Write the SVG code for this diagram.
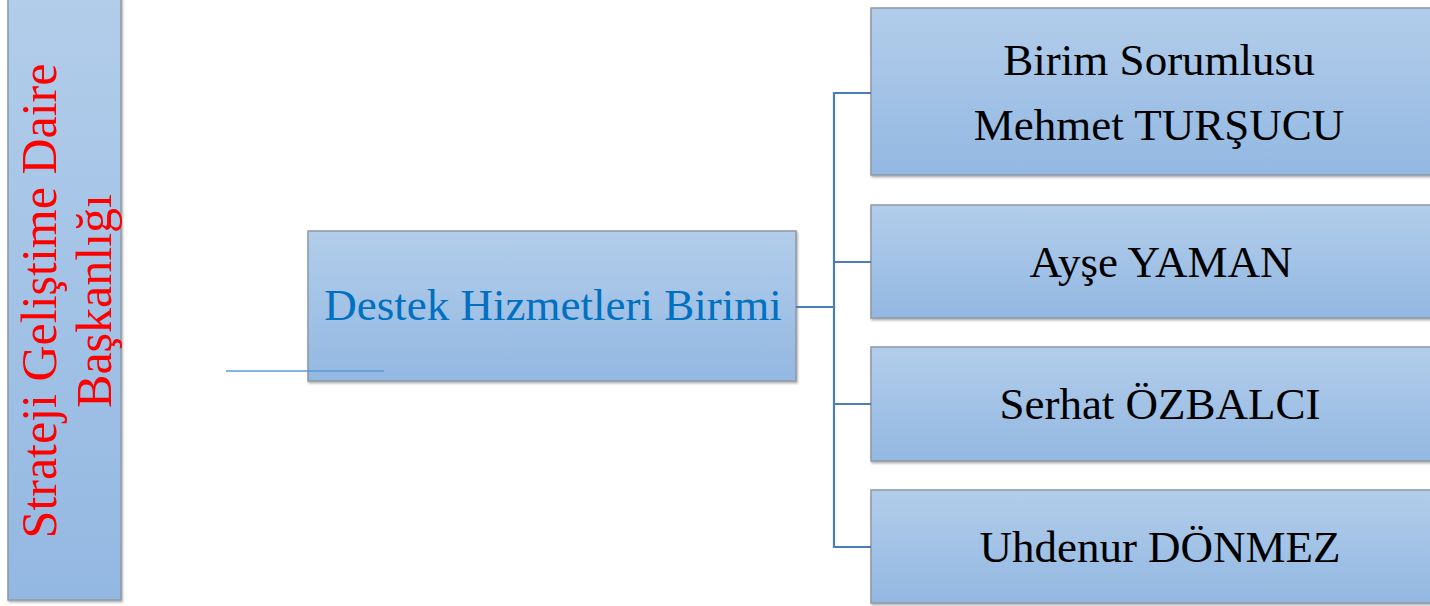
<svg xmlns="http://www.w3.org/2000/svg" width="1430" height="606" viewBox="0 0 1430 606">
<defs>
<linearGradient id="g" x1="0" y1="0" x2="0" y2="1">
<stop offset="0" stop-color="#b2cdea"/>
<stop offset="1" stop-color="#93b8e2"/>
</linearGradient>
<filter id="sh" x="-5%" y="-5%" width="110%" height="110%">
<feDropShadow dx="1" dy="1.5" stdDeviation="1" flood-color="#000" flood-opacity="0.35"/>
</filter>
</defs>
<style>
.box{fill:url(#g);stroke:#8e98a5;stroke-width:1.5;filter:url(#sh)}
.t{font-family:"Liberation Serif","Times New Roman",serif;font-size:45px;fill:#000;text-anchor:middle}
.blue{fill:#0070c0}
.red{fill:#ff0000;font-size:50px}
.c{fill:none;stroke:#4a7ebb;stroke-width:2.2}
</style>
<rect width="1430" height="606" fill="#fff"/>
<g id="node-strateji">
<rect class="box" x="8" y="-2" width="113" height="602"/>
<text class="t red" transform="translate(56,301) rotate(-90)">Strateji Geliştime Daire</text>
<text class="t red" transform="translate(111,301) rotate(-90)">Başkanlığı</text>
</g>
<g id="node-destek">
<rect class="box" x="308" y="231" width="488" height="150"/>
<text class="t blue" x="553" y="320">Destek Hizmetleri Birimi</text>
</g>
<g id="node-sorumlu">
<rect class="box" x="871" y="8" width="580" height="167"/>
<text class="t" x="1159" y="75">Birim Sorumlusu</text>
<text class="t" x="1159" y="140">Mehmet TURŞUCU</text>
</g>
<g id="node-ayse">
<rect class="box" x="871" y="205" width="580" height="113"/>
<text class="t" x="1161" y="277">Ayşe YAMAN</text>
</g>
<g id="node-serhat">
<rect class="box" x="871" y="347" width="580" height="114"/>
<text class="t" x="1160" y="419">Serhat ÖZBALCI</text>
</g>
<g id="node-uhdenur">
<rect class="box" x="871" y="490" width="580" height="113"/>
<text class="t" x="1160" y="562">Uhdenur DÖNMEZ</text>
</g>
<g id="connectors">
<path class="c" d="M796,307 H834"/>
<path class="c" d="M871,93 H834 V547 H871"/>
<path class="c" d="M834,262 H871"/>
<path class="c" d="M834,404 H871"/>
<line x1="226" y1="371" x2="384" y2="371" stroke="#5b9bd5" stroke-width="1.5"/>
</g>
</svg>
